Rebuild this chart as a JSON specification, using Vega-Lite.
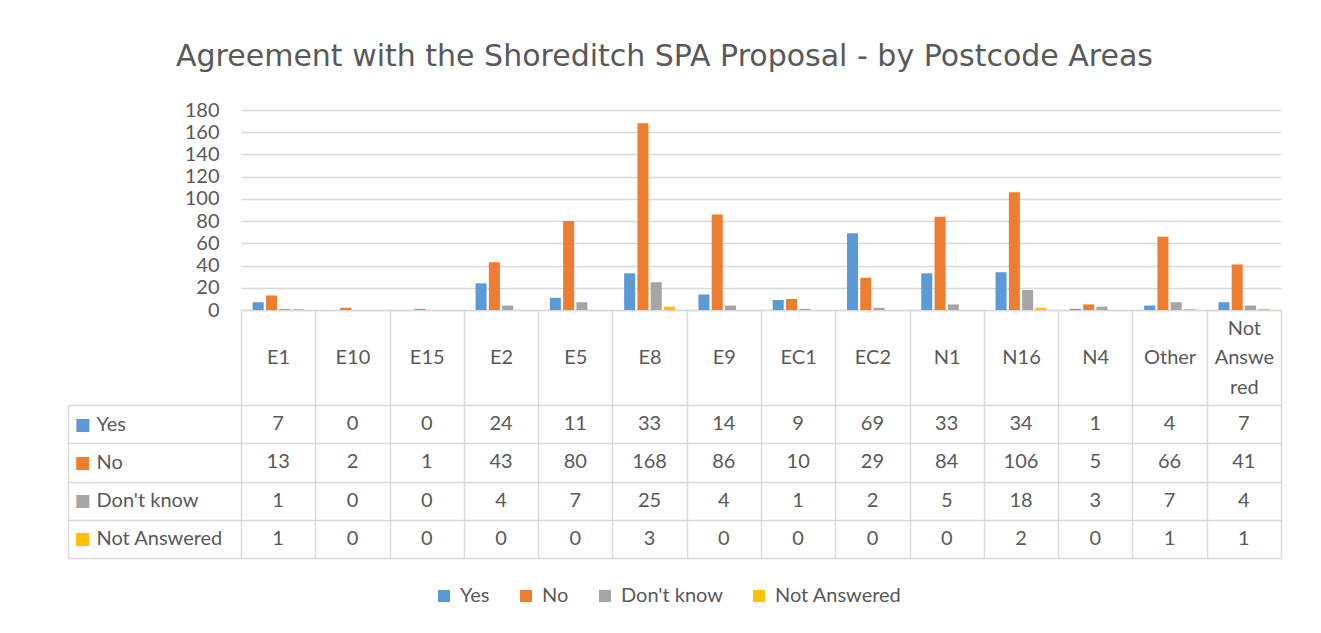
{
  "$schema": "https://vega.github.io/schema/vega-lite/v6.json",
  "padding": {"left": 67, "top": 42, "right": 10, "bottom": 10},
  "background": "white",
  "title": {"text": "Agreement with the Shoreditch SPA Proposal - by Postcode Areas", "font": "DejaVu Sans", "fontSize": 30, "fontWeight": "normal", "color": "#595959", "anchor": "middle", "dx": -10, "offset": 28},
  "datasets": {
    "d": [
      {"area": "E1", "series": "Yes", "count": 7},
      {"area": "E10", "series": "Yes", "count": 0},
      {"area": "E15", "series": "Yes", "count": 0},
      {"area": "E2", "series": "Yes", "count": 24},
      {"area": "E5", "series": "Yes", "count": 11},
      {"area": "E8", "series": "Yes", "count": 33},
      {"area": "E9", "series": "Yes", "count": 14},
      {"area": "EC1", "series": "Yes", "count": 9},
      {"area": "EC2", "series": "Yes", "count": 69},
      {"area": "N1", "series": "Yes", "count": 33},
      {"area": "N16", "series": "Yes", "count": 34},
      {"area": "N4", "series": "Yes", "count": 1},
      {"area": "Other", "series": "Yes", "count": 4},
      {"area": "Not Answered", "series": "Yes", "count": 7},
      {"area": "E1", "series": "No", "count": 13},
      {"area": "E10", "series": "No", "count": 2},
      {"area": "E15", "series": "No", "count": 1},
      {"area": "E2", "series": "No", "count": 43},
      {"area": "E5", "series": "No", "count": 80},
      {"area": "E8", "series": "No", "count": 168},
      {"area": "E9", "series": "No", "count": 86},
      {"area": "EC1", "series": "No", "count": 10},
      {"area": "EC2", "series": "No", "count": 29},
      {"area": "N1", "series": "No", "count": 84},
      {"area": "N16", "series": "No", "count": 106},
      {"area": "N4", "series": "No", "count": 5},
      {"area": "Other", "series": "No", "count": 66},
      {"area": "Not Answered", "series": "No", "count": 41},
      {"area": "E1", "series": "Don't know", "count": 1},
      {"area": "E10", "series": "Don't know", "count": 0},
      {"area": "E15", "series": "Don't know", "count": 0},
      {"area": "E2", "series": "Don't know", "count": 4},
      {"area": "E5", "series": "Don't know", "count": 7},
      {"area": "E8", "series": "Don't know", "count": 25},
      {"area": "E9", "series": "Don't know", "count": 4},
      {"area": "EC1", "series": "Don't know", "count": 1},
      {"area": "EC2", "series": "Don't know", "count": 2},
      {"area": "N1", "series": "Don't know", "count": 5},
      {"area": "N16", "series": "Don't know", "count": 18},
      {"area": "N4", "series": "Don't know", "count": 3},
      {"area": "Other", "series": "Don't know", "count": 7},
      {"area": "Not Answered", "series": "Don't know", "count": 4},
      {"area": "E1", "series": "Not Answered", "count": 1},
      {"area": "E10", "series": "Not Answered", "count": 0},
      {"area": "E15", "series": "Not Answered", "count": 0},
      {"area": "E2", "series": "Not Answered", "count": 0},
      {"area": "E5", "series": "Not Answered", "count": 0},
      {"area": "E8", "series": "Not Answered", "count": 3},
      {"area": "E9", "series": "Not Answered", "count": 0},
      {"area": "EC1", "series": "Not Answered", "count": 0},
      {"area": "EC2", "series": "Not Answered", "count": 0},
      {"area": "N1", "series": "Not Answered", "count": 0},
      {"area": "N16", "series": "Not Answered", "count": 2},
      {"area": "N4", "series": "Not Answered", "count": 0},
      {"area": "Other", "series": "Not Answered", "count": 1},
      {"area": "Not Answered", "series": "Not Answered", "count": 1}
    ]
  },
  "spacing": 95,
  "bounds": "flush",
  "vconcat": [
    {
      "width": 1040,
      "height": 200,
      "data": {"name": "d"},
      "mark": {"type": "bar"},
      "encoding": {
        "x": {
          "field": "area", "type": "nominal",
          "sort": ["E1", "E10", "E15", "E2", "E5", "E8", "E9", "EC1", "EC2", "N1", "N16", "N4", "Other", "Not Answered"],
          "scale": {"paddingInner": 0, "paddingOuter": 0},
          "axis": {
            "title": null, "labelAngle": 0, "tickBand": "extent", "tickSize": 95, "tickColor": "#D9D9D9", "tickWidth": 1.5,
            "domainColor": "#D9D9D9", "domainWidth": 1.5, "labelFont": "Lato", "labelFontSize": 20, "labelColor": "#595959",
            "labelBaseline": "middle", "labelLineHeight": 29.5,
            "labelPadding": {"condition": {"test": "datum.value === 'Not Answered'", "value": -77}, "value": -48},
            "labelExpr": "datum.label === 'Not Answered' ? ['Not', 'Answe', 'red'] : datum.label"
          }
        },
        "xOffset": {
          "field": "series", "type": "nominal",
          "sort": ["Yes", "No", "Don't know", "Not Answered"],
          "scale": {"paddingInner": 0.17, "paddingOuter": 0.88}
        },
        "y": {
          "field": "count", "type": "quantitative",
          "scale": {"domain": [0, 180], "nice": false},
          "axis": {
            "title": null, "values": [0, 20, 40, 60, 80, 100, 120, 140, 160, 180], "ticks": false, "domain": false,
            "gridColor": "#D9D9D9", "gridWidth": 1.5, "labelFont": "Lato", "labelFontSize": 20, "labelColor": "#595959", "labelPadding": 22
          }
        },
        "color": {
          "field": "series", "type": "nominal",
          "sort": ["Yes", "No", "Don't know", "Not Answered"],
          "scale": {"domain": ["Yes", "No", "Don't know", "Not Answered"], "range": ["#5B9BD5", "#ED7D31", "#A5A5A5", "#FFC000"]},
          "legend": {
            "orient": "none", "legendX": 193, "legendY": 476, "direction": "horizontal", "title": null,
            "symbolType": "square", "symbolSize": 144, "symbolStrokeWidth": 0, "labelFont": "Lato", "labelFontSize": 20,
            "labelColor": "#595959", "columnPadding": 26, "labelOffset": 6
          }
        }
      }
    },
    {
      "width": 1040,
      "height": 153,
      "data": {"name": "d"},
      "layer": [
        {
          "mark": {"type": "text", "font": "Lato", "fontSize": 20, "color": "#595959"},
          "encoding": {
            "x": {
              "field": "area", "type": "nominal",
              "sort": ["E1", "E10", "E15", "E2", "E5", "E8", "E9", "EC1", "EC2", "N1", "N16", "N4", "Other", "Not Answered"],
              "scale": {"paddingInner": 0, "paddingOuter": 0},
              "axis": {"title": null, "labels": false, "ticks": false, "domain": false, "grid": true, "tickBand": "extent", "gridColor": "#D9D9D9", "gridWidth": 1.5}
            },
            "y": {
              "field": "series", "type": "nominal",
              "sort": ["Yes", "No", "Don't know", "Not Answered"],
              "scale": {"paddingInner": 0, "paddingOuter": 0},
              "axis": {
                "title": null, "orient": "left", "domain": false, "grid": true, "tickBand": "extent", "gridColor": "#D9D9D9", "gridWidth": 1.5,
                "tickSize": 173, "tickColor": "#D9D9D9", "tickWidth": 1.5, "labelAlign": "left", "labelPadding": -28,
                "labelFont": "Lato", "labelFontSize": 20, "labelColor": "#595959"
              }
            },
            "text": {"field": "count", "type": "quantitative"}
          }
        },
        {
          "mark": {"type": "text", "text": ""},
          "encoding": {
            "y": {
              "field": "series", "type": "nominal",
              "sort": ["Yes", "No", "Don't know", "Not Answered"],
              "scale": {"paddingInner": 0, "paddingOuter": 0},
              "axis": {
                "title": null, "orient": "left", "offset": 173, "ticks": false, "grid": false, "domain": true,
                "domainColor": "#D9D9D9", "domainWidth": 1.5, "labelExpr": "'■'", "labelAlign": "center", "labelPadding": -14,
                "labelFont": "DejaVu Sans", "labelFontSize": 17,
                "labelColor": {
                  "condition": [
                    {"test": "datum.value === 'Yes'", "value": "#5B9BD5"},
                    {"test": "datum.value === 'No'", "value": "#ED7D31"},
                    {"test": "datum.value === \"Don't know\"", "value": "#A5A5A5"}
                  ],
                  "value": "#FFC000"
                }
              }
            }
          }
        }
      ],
      "resolve": {"scale": {"y": "independent"}, "axis": {"y": "independent"}}
    }
  ],
  "config": {"view": {"stroke": null}, "font": "Lato"}
}
